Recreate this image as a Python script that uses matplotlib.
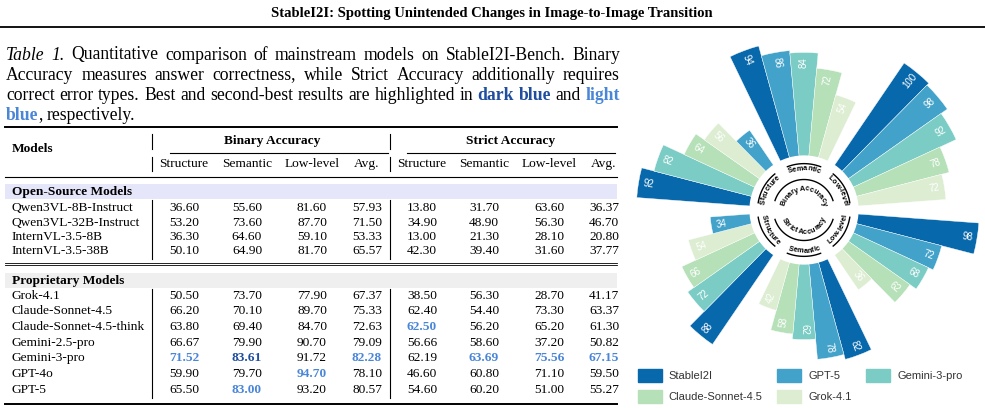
import numpy as np
import matplotlib
matplotlib.use("Agg")
import matplotlib.pyplot as plt
from matplotlib.patches import Patch

# ---- table data ----
col_names = ["Structure", "Semantic", "Low-level", "Avg."]
open_models = ["Qwen3VL-8B-Instruct", "Qwen3VL-32B-Instruct", "InternVL-3.5-8B", "InternVL-3.5-38B"]
open_vals = [
    ["36.60", "55.60", "81.60", "57.93", "13.80", "31.70", "63.60", "36.37"],
    ["53.20", "73.60", "87.70", "71.50", "34.90", "48.90", "56.30", "46.70"],
    ["36.30", "64.60", "59.10", "53.33", "13.00", "21.30", "28.10", "20.80"],
    ["50.10", "64.90", "81.70", "65.57", "42.30", "39.40", "31.60", "37.77"],
]
prop_models = ["Grok-4.1", "Claude-Sonnet-4.5", "Claude-Sonnet-4.5-think", "Gemini-2.5-pro",
               "Gemini-3-pro", "GPT-4o", "GPT-5"]
prop_vals = [
    ["50.50", "73.70", "77.90", "67.37", "38.50", "56.30", "28.70", "41.17"],
    ["66.20", "70.10", "89.70", "75.33", "62.40", "54.40", "73.30", "63.37"],
    ["63.80", "69.40", "84.70", "72.63", "62.50", "56.20", "65.20", "61.30"],
    ["66.67", "79.90", "90.70", "79.09", "56.66", "58.60", "37.20", "50.82"],
    ["71.52", "83.61", "91.72", "82.28", "62.19", "63.69", "75.56", "67.15"],
    ["59.90", "79.70", "94.70", "78.10", "46.60", "60.80", "71.10", "59.50"],
    ["65.50", "83.00", "93.20", "80.57", "54.60", "60.20", "51.00", "55.27"],
]
# highlight marks: (row, col) -> 'd' dark / 'l' light (proprietary block)
highlights = {(2, 4): "l", (4, 0): "l", (4, 1): "d", (4, 3): "l", (4, 5): "l",
              (4, 6): "l", (4, 7): "l", (5, 2): "l", (6, 1): "l"}

# ---- radial chart data ----
radial_models = ["StableI2I", "GPT-5", "Gemini-3-pro", "Claude-Sonnet-4.5", "Grok-4.1"]
radial_colors = ["#0868ac", "#43a2ca", "#7bccc4", "#b5e0b8", "#dcedd2"]
groups = ["Structure", "Semantic", "Low-level", "Low-level", "Semantic", "Structure"]
group_centers = [150, 90, 30, -30, -90, -150]
# each group: (model index, value) in clockwise drawing order
group_bars = [
    [(0, 92), (2, 82), (3, 64), (4, 56), (1, 36)],
    [(0, 94), (1, 86), (2, 84), (3, 72), (4, 54)],
    [(0, 100), (1, 98), (2, 92), (3, 78), (4, 72)],
    [(0, 98), (1, 72), (2, 68), (3, 62), (4, 36)],
    [(0, 82), (1, 78), (2, 62), (3, 58), (4, 42)],
    [(0, 88), (2, 72), (3, 66), (4, 54), (1, 34)],
]

DARK = "#1f4e9e"
LIGHT = "#4a86d8"
serif = "Liberation Serif"
sans = "Liberation Sans"

fig = plt.figure(figsize=(9.85, 4.08), dpi=100)
ax0 = fig.add_axes([0, 0, 1, 1])
ax0.set_xlim(0, 985)
ax0.set_ylim(408, 0)
ax0.axis("off")
renderer = fig.canvas.get_renderer()


def width_of(s, **kw):
    t = ax0.text(0, 0, s, **kw)
    w = t.get_window_extent(renderer).width
    t.remove()
    return w


# title
ax0.text(492, 13, "StableI2I: Spotting Unintended Changes in Image-to-Image Transition",
         family=serif, weight="bold", size=10.5, ha="center", va="center")
ax0.plot([0, 985], [27, 27], color="black", lw=1.3)

# caption (justified)
cap = dict(family=serif, size=12.7)
ital = dict(cap, style="italic")
db = dict(cap, weight="bold", color=DARK)
lb = dict(cap, weight="bold", color=LIGHT)


def words(s, p=cap):
    return [[(w, p)] for w in s.split()]


cap_lines = [
    [[("Table", ital)], [("1.", ital)]] + words("Quantitative comparison of mainstream models on StableI2I-Bench. Binary"),
    words("Accuracy measures answer correctness, while Strict Accuracy additionally requires"),
    words("correct error types. Best and second-best results are highlighted in")
    + [[("dark", db)], [("blue", db)], [("and", cap)], [("light", lb)]],
    [[("blue", lb), (",", cap)], [("respectively.", cap)]],
]
cap_y = [55, 75, 95, 115]
x0, x1 = 6, 620
for li, (line, y) in enumerate(zip(cap_lines, cap_y)):
    ws = [[width_of(t, **p) for t, p in w] for w in line]
    tot = sum(sum(w) for w in ws)
    if li == len(cap_lines) - 1:
        gap = 3.5
    else:
        gap = (x1 - x0 - tot) / (len(line) - 1)
    x = x0
    for w, wl in zip(line, ws):
        for (t, p), wi in zip(w, wl):
            ax0.text(x, y, t, ha="left", va="center", **p)
            x += wi
        x += gap

# table
body = dict(family=serif, size=9.6)
bold = dict(body, weight="bold")
L, R = 5, 617
col_x = [184, 247, 312, 367, 422, 484, 549, 604]
vx = [152, 390]

ax0.plot([L, R], [127, 127], color="black", lw=1.4)
ax0.text(12, 149, "Models", va="center", **bold)
ax0.text(272, 141, "Binary Accuracy", ha="center", va="center", **bold)
ax0.text(511, 141, "Strict Accuracy", ha="center", va="center", **bold)
ax0.plot([170, 388], [153, 153], color="black", lw=0.8)
ax0.plot([407, 615], [153, 153], color="black", lw=0.8)
for i, c in enumerate(col_names * 2):
    ax0.text(col_x[i], 164, c, ha="center", va="center", **body)
for x in vx:
    ax0.plot([x, x], [134, 149], color="black", lw=0.8)
    ax0.plot([x, x], [157, 171], color="black", lw=0.8)
ax0.plot([L, R], [177, 177], color="black", lw=0.8)

# open-source block
ax0.fill_between([L, R], 184, 199, color="#e6e6fa", lw=0)
ax0.text(12, 191.5, "Open-Source Models", va="center", **bold)
row_y = [208, 223, 237, 251]
for name, vals, y in zip(open_models, open_vals, row_y):
    ax0.text(12, y, name, va="center", **body)
    for i, v in enumerate(vals):
        ax0.text(col_x[i], y, v, ha="center", va="center", **body)
for x in vx:
    ax0.plot([x, x], [200, 259], color="black", lw=0.8)
ax0.plot([L, R], [262.5, 262.5], color="black", lw=0.6)
ax0.plot([L, R], [265, 265], color="black", lw=0.6)

# proprietary block
ax0.fill_between([L, R], 273, 288, color="#efefef", lw=0)
ax0.text(12, 281, "Proprietary Models", va="center", **bold)
row_y = [296, 311, 327, 343, 358, 374, 390]
for r, (name, vals, y) in enumerate(zip(prop_models, prop_vals, row_y)):
    ax0.text(12, y, name, va="center", **body)
    for i, v in enumerate(vals):
        h = highlights.get((r, i))
        p = body if h is None else dict(bold, color=DARK if h == "d" else LIGHT)
        ax0.text(col_x[i], y, v, ha="center", va="center", **p)
for x in vx:
    ax0.plot([x, x], [289, 398], color="black", lw=0.8)
ax0.plot([L, R], [404, 404], color="black", lw=1.4)

# ---- radial bars ----
cx, cy, Rpx = 804, 210, 180
rmax = 141.7
scale = Rpx / rmax
axp = fig.add_axes([(cx - Rpx) / 985, (408 - cy - Rpx) / 408, 2 * Rpx / 985, 2 * Rpx / 408],
                   projection="polar")
axp.set_ylim(0, rmax)
axp.axis("off")
axp.patch.set_alpha(0)
base = 40
step = 10.3
for gc, bars in zip(group_centers, group_bars):
    for i, (m, v) in enumerate(bars):
        ang = gc + (2 - i) * step
        th = np.deg2rad(ang)
        axp.bar(th, v, width=np.deg2rad(step), bottom=base, color=radial_colors[m],
                edgecolor="white", linewidth=0.3, clip_on=False, zorder=2)
        rot = ang if np.cos(th) >= 0 else ang - 180
        axp.text(th, base + v - 8, str(v), color="white", size=7, family=sans,
                 rotation=rot, rotation_mode="anchor", ha="center", va="center", zorder=4)

# hub
axp.bar(0, 43, width=2 * np.pi, bottom=0, color="white", zorder=3)


def arc_text(s, center, r, size, top, weight="normal"):
    kw = dict(family=sans, size=size, weight=weight)
    ws = [width_of(c, **kw) if c != " " else size * 0.3 for c in s]
    rp = r * scale
    tot = sum(ws) / rp
    c0 = np.deg2rad(center)
    cum = 0
    for ch, w in zip(s, ws):
        if top:
            a = c0 + tot / 2 - (cum + w / 2) / rp
            rot = np.rad2deg(a) - 90
        else:
            a = c0 - tot / 2 + (cum + w / 2) / rp
            rot = np.rad2deg(a) + 90
        cum += w
        axp.text(a, r, ch, rotation=rot, rotation_mode="anchor", ha="center",
                 va="center", zorder=5, **kw)


for gname, gc in zip(groups, group_centers):
    top = gc > 0
    th = np.deg2rad(np.linspace(gc - 21, gc + 21, 40))
    axp.plot(th, np.full_like(th, 36.5), color="black", lw=1.0, zorder=5)
    arc_text(gname, gc, 32.5, 5.3, top, weight="bold")
for gc, lab in [(90, "Binary Accuracy"), (-90, "Strict Accuracy")]:
    th = np.deg2rad(np.linspace(gc - 72, gc + 72, 80))
    axp.plot(th, np.full_like(th, 24), color="black", lw=1.0, zorder=5)
    arc_text(lab, gc, 16.5 if gc > 0 else 17.5, 5.3, gc > 0, weight="bold")

# legend
handles = [Patch(color=c, label=m) for m, c in zip(radial_models, radial_colors)]
order = [0, 3, 1, 4, 2]
leg = fig.legend([handles[i] for i in order], [radial_models[i] for i in order],
                 ncol=3, loc="center", bbox_to_anchor=(800 / 985, 1 - 386 / 408),
                 frameon=False, prop=dict(family=sans, size=8), handlelength=2.2,
                 handleheight=1.4, columnspacing=1.3, labelspacing=0.7, handletextpad=0.6)
for t in leg.get_texts():
    t.set_color("#333333")

fig.savefig("out.png", dpi=100)
